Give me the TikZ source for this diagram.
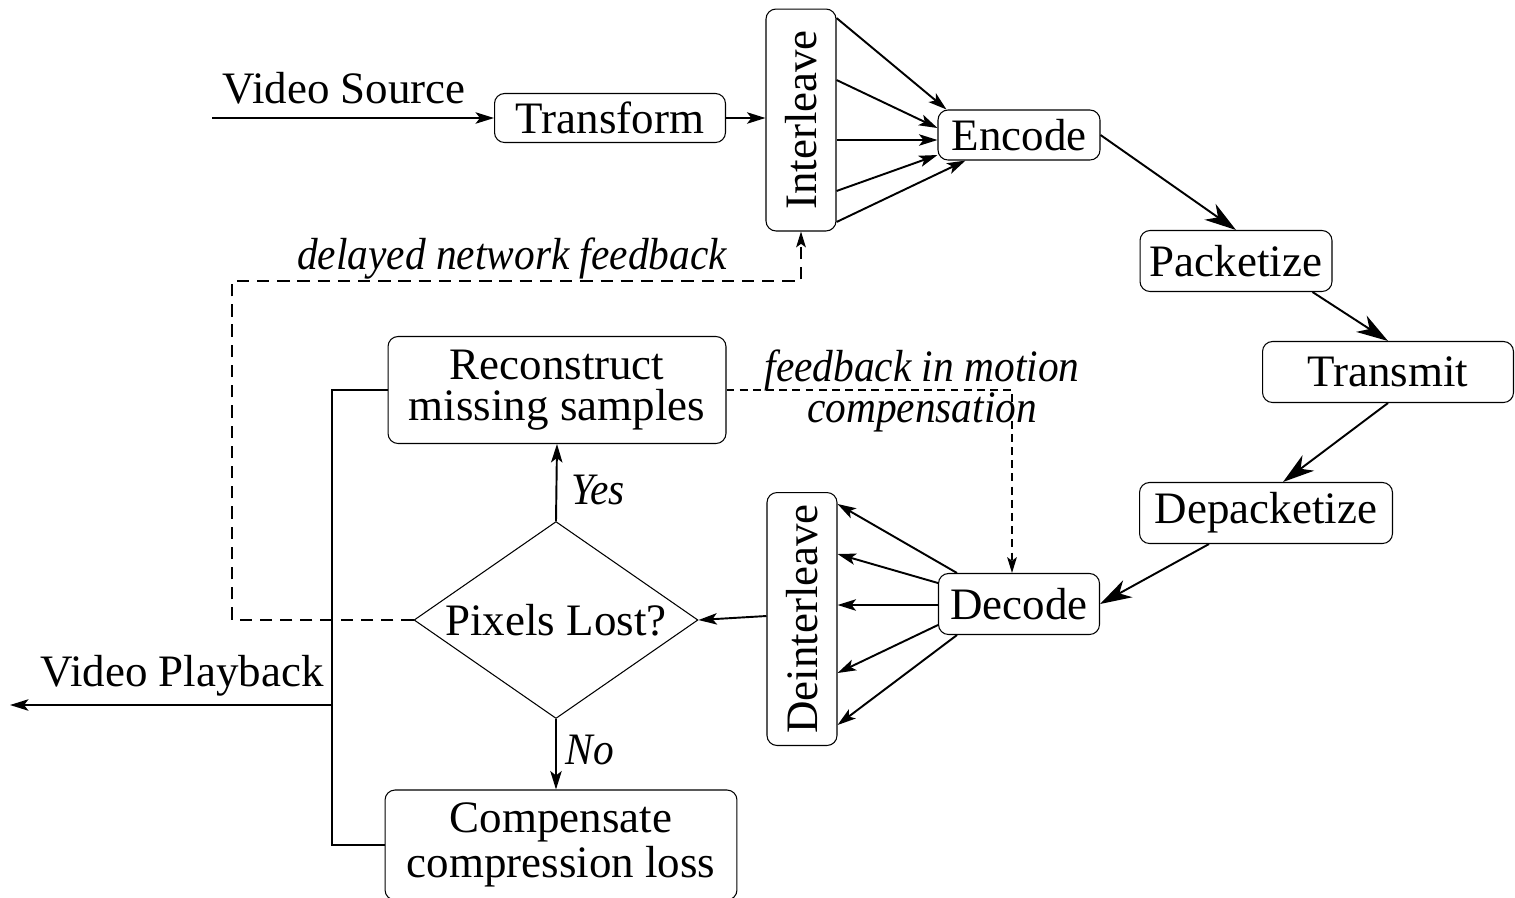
\documentclass[tikz,border=0pt]{standalone}
\usepackage{fontspec}
\setmainfont{Liberation Serif}
\usepackage{graphicx}
\usetikzlibrary{arrows.meta,shapes.geometric,calc}
\newcommand{\condit}[1]{\scalebox{0.92}[1]{\itshape #1}}
\begin{document}
\begin{tikzpicture}[x=0.02cm,y=-0.02cm,
  font=\fontsize{25.6}{24}\selectfont,
  box/.style={draw, rounded corners=0.2cm, line width=0.6pt, inner sep=0pt, align=center},
  arr/.style={line width=1.1pt, -{Stealth[length=10.5pt,width=6.5pt,inset=2.5pt]}},
  bigarr/.style={line width=1.1pt, -{Stealth[length=18pt,width=11pt,inset=5.5pt]}},
  fbA/.style={line width=1pt, dash pattern=on 7pt off 4.5pt},
  fbB/.style={line width=1pt, dash pattern=on 4.5pt off 3pt},
  solid line/.style={line width=1.1pt},
  lab/.style={inner sep=0pt}]
\useasboundingbox (0,0) rectangle (1515,897);

% boxes
\node[box, minimum width=4.62cm, minimum height=0.98cm] (tr) at (610,118) {Transform};
\node[box, minimum width=1.4cm, minimum height=4.44cm] (il) at (801,120) {\rotatebox{90}{Interleave}};
\node[box, minimum width=3.24cm, minimum height=1.0cm] (en) at (1019,135) {Encode};
\node[box, minimum width=3.84cm, minimum height=1.22cm] (pk) at (1236,261) {Packetize};
\node[box, minimum width=5.02cm, minimum height=1.22cm] (tm) at (1388,372) {Transmit};
\node[box, minimum width=5.06cm, minimum height=1.22cm] (dp) at (1266,513) {Depacketize};
\node[box, minimum width=3.22cm, minimum height=1.22cm] (dec) at (1019,604) {Decode};
\node[box, minimum width=1.4cm, minimum height=5.06cm] (dil) at (802,619) {\rotatebox{90}{Deinterleave}};
\node[box, minimum width=6.76cm, minimum height=2.14cm, font=\fontsize{25.6}{23.6}\selectfont] (rec) at (557,390) {Reconstruct\\missing samples};
\node[draw, diamond, line width=0.6pt, minimum width=5.68cm, minimum height=3.94cm, inner sep=0pt] (dia) at (556,620) {\makebox[0pt]{Pixels Lost?}};
\node[box, minimum width=7.04cm, minimum height=2.2cm, font=\fontsize{25.6}{25.6}\selectfont] (comp) at (561,845) {Compensate\\compression loss};

% free labels
\node[lab] (vsl) at (344,88) {Video Source};
\node[lab] (vpl) at (182,676) {Video Playback};
\node[lab] (yes) at (598,490) {\condit{Yes}};
\node[lab] (no) at (590,750) {\condit{No}};
\node[lab] (dnf) at (512,259) {\condit{delayed network feedback}};
\node[lab] (fmc) at (922,392) {\condit{\fontsize{25.6}{22}\selectfont\begin{tabular}{@{}c@{}}feedback in motion\\compensation\end{tabular}}};

% coordinates
\coordinate (vs) at (212,118);
\coordinate (j) at (332,705);
\coordinate (vp) at (10,705);

% top chain
\draw[arr] (vs) -- (tr.west);
\draw[arr] (tr.east) -- (il.west |- tr.east);
\draw[arr] (il.east |- 0,18) -- ($(en.north west)+(9,0)$);
\draw[arr] (il.east |- 0,80) -- (en.west |- 0,128);
\draw[arr] (il.east |- 0,140) -- (en.west |- 0,140);
\draw[arr] (il.east |- 0,191) -- (en.west |- 0,155);
\draw[arr] (il.east |- 0,222) -- ($(en.south west)+(28,0)$);

% right chain
\draw[bigarr] (en.east) -- (pk.north);
\draw[bigarr] ($(pk.south east)+(-20,0)$) -- (tm.north);
\draw[bigarr] (tm.south) -- ($(dp.north)+(17,0)$);
\draw[bigarr] ($(dp.south west)+(70,0)$) -- (dec.east);

% decode fan
\draw[arr] ($(dec.north west)+(19,0)$) -- (dil.east |- 0,504);
\draw[arr] (dec.west |- 0,583) -- (dil.east |- 0,554);
\draw[arr] (dec.west |- 0,605) -- (dil.east |- 0,605);
\draw[arr] (dec.west |- 0,625) -- (dil.east |- 0,673);
\draw[arr] ($(dec.south west)+(19,0)$) -- (dil.east |- 0,725);
\draw[arr] (dil.west |- 0,616) -- (dia.east);

% decision
\draw[arr] (dia.north) -- (rec.south);
\draw[arr] (dia.south) -- (dia.south |- comp.north);

% output
\draw[solid line] (rec.west) -| (j);
\draw[solid line] (comp.west) -| (j);
\draw[arr] (j) -- (vp);

% feedback
\draw[fbA, -{Stealth[length=9pt,width=5.5pt,inset=2pt]}] (dia.west) -| (232,281) -| (il.south);
\draw[fbB, -{Stealth[length=9pt,width=5.5pt,inset=2pt]}] (rec.east) -| ($(dec.north)+(-7,0)$);
\end{tikzpicture}
\end{document}
